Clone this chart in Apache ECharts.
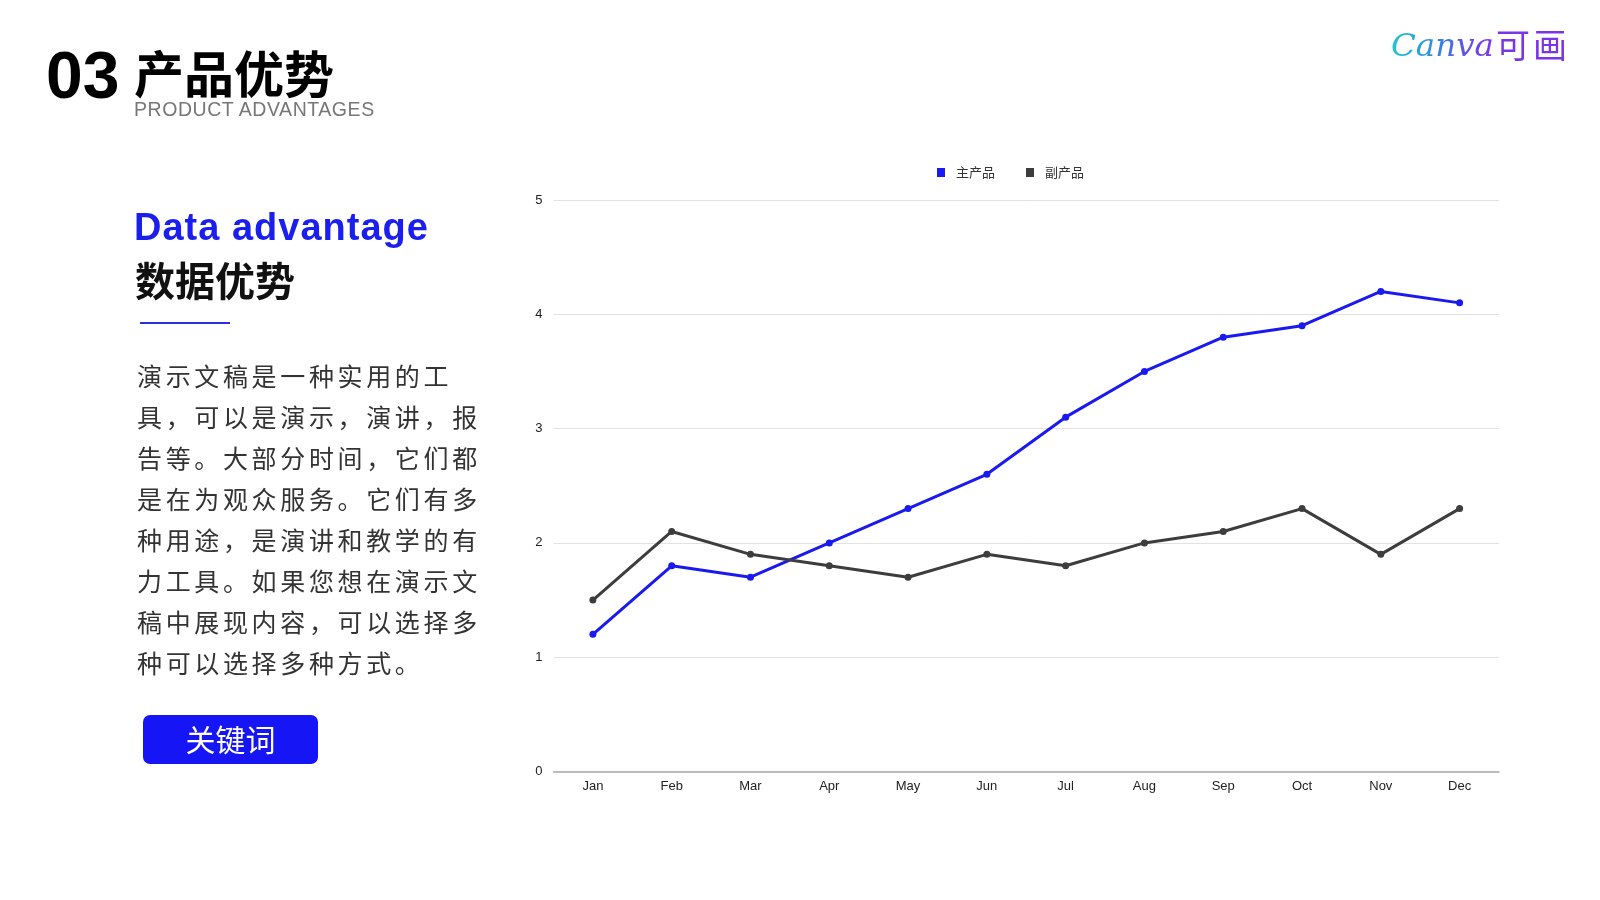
<!DOCTYPE html>
<html>
<head>
<meta charset="utf-8">
<script src="https://cdn.jsdelivr.net/npm/echarts@6/dist/echarts.min.js"></script>
<style>
  html, body { margin:0; padding:0; width:1600px; height:900px; background:#fff; overflow:hidden; }
  body { position:relative; font-family: "Liberation Sans", "Noto Sans CJK SC", sans-serif; }
  #chart { position:absolute; left:0; top:0; width:1600px; height:900px; }
  .abs { position:absolute; white-space:nowrap; }
  #num { left:46px; top:35px; font-size:66px; font-weight:bold; color:#000; line-height:80px; font-family:"Liberation Sans", Arial, sans-serif; }
  #ttl { left:134px; top:41px; font-size:50px; font-weight:bold; color:#000; line-height:60px; font-family:"Noto Sans CJK SC", sans-serif; }
  #sub { left:134px; top:98px; font-size:19.5px; letter-spacing:0.55px; color:#777; line-height:22px; font-family:"Liberation Sans", Arial, sans-serif; }
  #logo1 { left:1391px; top:25px; font-size:32.5px; line-height:40px; font-style:italic; font-family:"DejaVu Serif", serif;
          background:linear-gradient(90deg,#1fc6cf 0%,#2f8fe0 40%,#6a45ea 80%,#7b38e8 100%);
          -webkit-background-clip:text; background-clip:text; color:transparent; }
  #logo2 { left:1496px; top:22px; font-size:34px; line-height:44px; letter-spacing:3px; color:#7b35e6; font-family:"Noto Sans CJK SC", sans-serif; }
  #h1 { left:134px; top:204px; font-size:38px; letter-spacing:1px; font-weight:bold; color:#1a1ff0; line-height:46px; font-family:"Liberation Sans", Arial, sans-serif; }
  #h2 { left:135px; top:254px; font-size:40px; font-weight:bold; color:#111; line-height:50px; font-family:"Noto Sans CJK SC", sans-serif; }
  #rule { left:140px; top:322px; width:90px; height:2px; background:#2a2ee0; }
  #para { left:137px; top:355px; font-size:25px; line-height:41px; color:#333; letter-spacing:3.65px; font-family:"Noto Sans CJK SC", sans-serif; }
  #btn { left:143px; top:715px; width:175px; height:49px; border-radius:7px; background:#1515f5; color:#fff; font-size:30px;
         line-height:47px; text-align:center; font-family:"Noto Sans CJK SC", sans-serif; }
</style>
</head>
<body>
<div id="chart"></div>
<div class="abs" id="num">03</div>
<div class="abs" id="ttl">产品优势</div>
<div class="abs" id="sub">PRODUCT ADVANTAGES</div>
<div class="abs" id="logo1">Canva</div>
<div class="abs" id="logo2">可画</div>
<div class="abs" id="h1">Data advantage</div>
<div class="abs" id="h2">数据优势</div>
<div class="abs" id="rule"></div>
<div class="abs" id="para">演示文稿是一种实用的工<br>具，可以是演示，演讲，报<br>告等。大部分时间，它们都<br>是在为观众服务。它们有多<br>种用途，是演讲和教学的有<br>力工具。如果您想在演示文<br>稿中展现内容，可以选择多<br>种可以选择多种方式。</div>
<div class="abs" id="btn">关键词</div>
<script>
const categories = ['Jan','Feb','Mar','Apr','May','Jun','Jul','Aug','Sep','Oct','Nov','Dec'];
const seriesNames = ['主产品','副产品'];
const mainValues = [1.2, 1.8, 1.7, 2.0, 2.3, 2.6, 3.1, 3.5, 3.8, 3.9, 4.2, 4.1];
const subValues  = [1.5, 2.1, 1.9, 1.8, 1.7, 1.9, 1.8, 2.0, 2.1, 2.3, 1.9, 2.3];
const yTicks = [0, 1, 2, 3, 4, 5];
const colors = ['#1a1af0', '#3d3d3d'];

const chart = echarts.init(document.getElementById('chart'));
chart.setOption({
  animation: false,
  color: colors,
  textStyle: { fontFamily: '"Liberation Sans", "Noto Sans CJK SC", sans-serif' },
  legend: {
    data: seriesNames,
    top: 161,
    left: 932,
    itemWidth: 8, itemHeight: 9, itemGap: 31,
    icon: 'rect',
    textStyle: { fontSize: 13, color: '#333', padding: [0, 0, 0, 6], fontFamily: '"Noto Sans CJK SC", sans-serif' }
  },
  grid: { left: 553.5, right: 101, top: 200, bottom: 128.5, containLabel: false },
  xAxis: {
    type: 'category',
    data: categories,
    boundaryGap: true,
    axisLine: { show: true, lineStyle: { color: '#aaaaaa', width: 1.5 } },
    axisTick: { show: false },
    axisLabel: { color: '#222', fontSize: 13, margin: 8 }
  },
  yAxis: {
    type: 'value',
    min: yTicks[0], max: yTicks[yTicks.length - 1], interval: 1,
    axisLine: { show: false },
    axisTick: { show: false },
    axisLabel: { color: '#222', fontSize: 13, margin: 11 },
    splitLine: { lineStyle: { color: '#e2e2e2', width: 1 } }
  },
  series: [
    { name: seriesNames[0], type: 'line', data: mainValues, symbol: 'circle', symbolSize: 7,
      lineStyle: { width: 3 }, itemStyle: { color: colors[0] } },
    { name: seriesNames[1], type: 'line', data: subValues, symbol: 'circle', symbolSize: 7,
      lineStyle: { width: 3 }, itemStyle: { color: colors[1] } }
  ]
});
</script>
</body>
</html>
